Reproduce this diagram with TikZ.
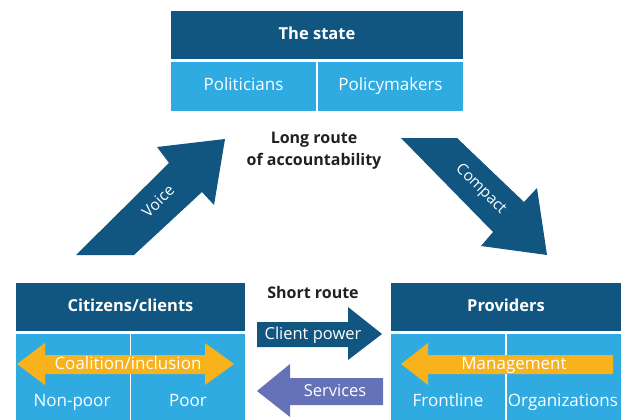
\documentclass[tikz,border=0pt]{standalone}
\usepackage{fontspec}
\setmainfont{Open Sans}
\usetikzlibrary{positioning}
\definecolor{darkblue}{RGB}{17,86,128}
\definecolor{lightblue}{RGB}{48,171,226}
\definecolor{gold}{RGB}{248,178,27}
\definecolor{lavender}{RGB}{102,114,184}
\definecolor{ink}{RGB}{35,31,32}
\begin{document}
\begin{tikzpicture}[x=1pt,y=-1pt,thick,
    head/.style={rectangle,fill=darkblue,draw=white,line width=1.5pt,text=white,inner sep=0pt,minimum height=50pt,text height=12pt,text depth=3.5pt,font=\fontsize{16.5}{19}\selectfont\bfseries},
    cell/.style={rectangle,fill=lightblue,draw=white,line width=1.5pt,text=white,inner sep=0pt,minimum height=50pt,text height=12pt,text depth=3.5pt,font=\fontsize{17}{20}\selectfont},
    celltext/.style={text=white,inner sep=0pt,text height=12pt,text depth=3.5pt,font=\fontsize{17}{20}\selectfont},
    arrowtext/.style={text=white,inner sep=0pt,text height=12pt,text depth=3.5pt,font=\fontsize{16.5}{19}\selectfont},
    routetext/.style={text=ink,align=center,inner sep=0pt,font=\fontsize{16}{22}\selectfont\bfseries}]
    \useasboundingbox (0,0) rectangle (624,420);

    % the state
    \node[head, minimum width=294pt] (state) at (317,35) {The state};
    \node[cell, minimum width=147pt, anchor=north west] (politicians) at (state.south west) {Politicians};
    \node[cell, minimum width=147pt, anchor=north east] (policymakers) at (state.south east) {Policymakers};
    \node[routetext] (longroute) at (314,151) {Long route\\of accountability};

    % citizens
    \node[head, minimum width=231pt] (citizens) at (130.5,307) {Citizens/clients};
    \node[cell, minimum width=115.5pt, minimum height=95pt, anchor=north west] (nonpoor) at (citizens.south west) {};
    \node[cell, minimum width=115.5pt, minimum height=95pt, anchor=north east] (poor) at (citizens.south east) {};
    \node[celltext] (nonpoortext) at (72,402) {Non-poor};
    \node[celltext] (poortext) at (188,402) {Poor};

    % providers
    \node[head, minimum width=232pt] (providers) at (506,307) {Providers};
    \node[cell, minimum width=116pt, minimum height=95pt, anchor=north west] (frontline) at (providers.south west) {};
    \node[cell, minimum width=116pt, minimum height=95pt, anchor=north east] (organizations) at (providers.south east) {};
    \node[celltext] (frontlinetext) at (448,402) {Frontline};
    \node[celltext] (organizationstext) at (563,402) {Organizations};

    % long route
    \fill[darkblue] (76,255) -- (169,163) -- (157,147) -- (225,139) -- (214,205) -- (202,192) -- (134,255) -- cycle;
    \node[arrowtext, rotate=45, font=\fontsize{15.5}{18}\selectfont] (voice) at (159,202) {Voice};
    \fill[darkblue] (401,138) -- (457,138) -- (524,202) -- (537,188) -- (547,255) -- (481,246) -- (493,232) -- cycle;
    \node[arrowtext, rotate=-45, font=\fontsize{15.5}{18}\selectfont] (compact) at (481,189) {Compact};

    % short route
    \node[routetext] (shortroute) at (313,292) {Short route};
    \fill[darkblue] (257,322) -- (348,322) -- (348,307) -- (382,334) -- (348,360) -- (348,347) -- (257,347) -- cycle;
    \node[arrowtext] (clientpower) at (313,335) {Client power};
    \fill[lavender] (383,378) -- (290,378) -- (290,364) -- (257,391) -- (290,417) -- (290,405) -- (383,405) -- cycle;
    \node[arrowtext] (services) at (335,392) {Services};

    % inside the boxes
    \fill[gold] (17,364) -- (45,343) -- (45,355) -- (205,355) -- (205,343) -- (234,364) -- (205,385) -- (205,374) -- (45,374) -- (45,385) -- cycle;
    \node[celltext] (coalition) at (128,365) {Coalition/inclusion};
    \fill[gold] (401,364) -- (428,343) -- (428,355) -- (613,355) -- (613,374) -- (428,374) -- (428,385) -- cycle;
    \node[celltext] (management) at (514,365) {Management};
\end{tikzpicture}
\end{document}
